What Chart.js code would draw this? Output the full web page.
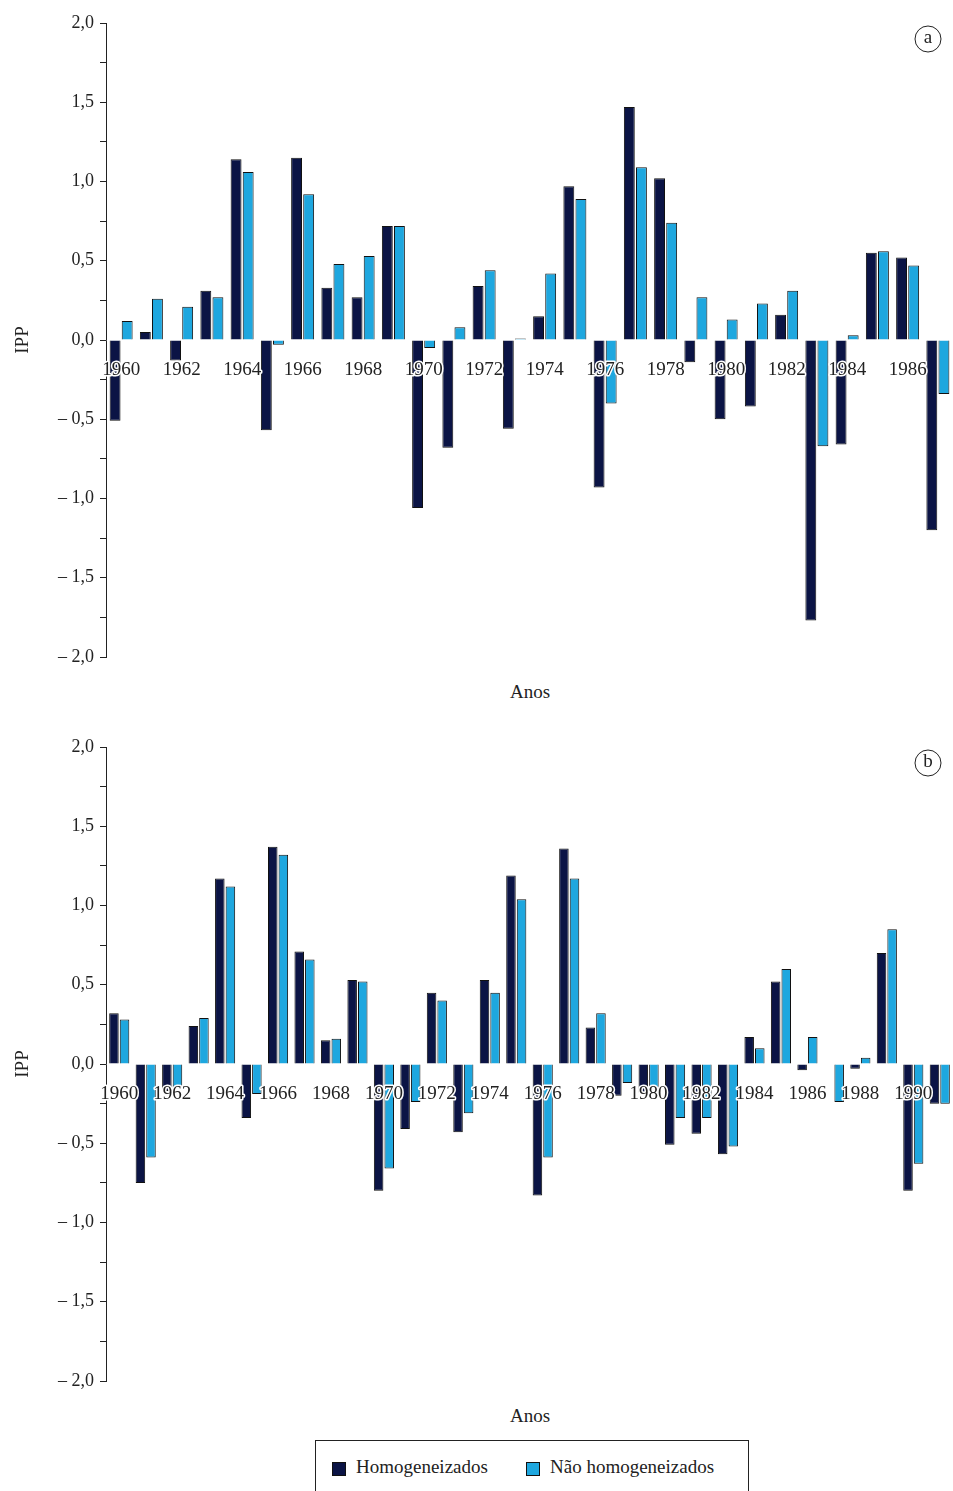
<!DOCTYPE html>
<html><head><meta charset="utf-8">
<script src="https://cdn.jsdelivr.net/npm/chart.js@4"></script>
<style>
body{margin:0;background:#fff;font-family:"Liberation Serif",serif;}
.wrap{position:absolute;left:0;width:953px;}
.t{position:absolute;font-size:19px;color:#222;}
#legend{position:absolute;left:315px;top:1440px;width:432px;height:50px;border:1px solid #222;border-bottom:none;font-size:19px;color:#222;}
#legend span.b{display:inline-block;width:12px;height:12px;border:1px solid #111;vertical-align:middle;margin-right:10px;}
</style></head><body>
<div class="wrap" style="top:0;height:680px"><canvas id="ca"></canvas></div>
<div class="wrap" style="top:724px;height:680px"><canvas id="cb"></canvas></div>
<div class="t" style="left:510px;top:681px">Anos</div>
<div class="t" style="left:510px;top:1405px">Anos</div>
<div id="legend"><div style="position:absolute;left:16px;top:15px"><span class="b" style="background:#0b1445"></span>Homogeneizados</div>
<div style="position:absolute;left:210px;top:15px"><span class="b" style="background:#1ea7df"></span>Não homogeneizados</div></div>
<script>
var yearsA = [1960,1961,1962,1963,1964,1965,1966,1967,1968,1969,1970,1971,1972,1973,1974,1975,1976,1977,1978,1979,1980,1981,1982,1983,1984,1985,1986,1987];
var homA = [-0.51,0.05,-0.13,0.31,1.14,-0.57,1.15,0.33,0.27,0.72,-1.06,-0.68,0.34,-0.56,0.15,0.97,-0.93,1.47,1.02,-0.14,-0.50,-0.42,0.16,-1.77,-0.66,0.55,0.52,-1.20];
var naoA = [0.12,0.26,0.21,0.27,1.06,-0.03,0.92,0.48,0.53,0.72,-0.05,0.08,0.44,0.01,0.42,0.89,-0.40,1.09,0.74,0.27,0.13,0.23,0.31,-0.67,0.03,0.56,0.47,-0.34];
var yearsB = [1960,1961,1962,1963,1964,1965,1966,1967,1968,1969,1970,1971,1972,1973,1974,1975,1976,1977,1978,1979,1980,1981,1982,1983,1984,1985,1986,1987,1988,1989,1990,1991];
var homB = [0.32,-0.75,-0.17,0.24,1.17,-0.34,1.37,0.71,0.15,0.53,-0.80,-0.41,0.45,-0.43,0.53,1.19,-0.83,1.36,0.23,-0.20,-0.18,-0.51,-0.44,-0.57,0.17,0.52,-0.04,0.00,-0.03,0.70,-0.80,-0.25];
var naoB = [0.28,-0.59,-0.15,0.29,1.12,-0.19,1.32,0.66,0.16,0.52,-0.66,-0.24,0.40,-0.31,0.45,1.04,-0.59,1.17,0.32,-0.12,-0.15,-0.34,-0.34,-0.52,0.10,0.60,0.17,-0.24,0.04,0.85,-0.63,-0.25];

function fmt(v){
  var r = Math.round(v*100)/100;
  if (Math.abs(r*2 - Math.round(r*2)) > 1e-6) return '';
  var s = Math.abs(r).toFixed(1).replace('.', ',');
  return r < 0 ? '\u2013 ' + s : s;
}
function make(id, years, hom, nao, letter){
  new Chart(document.getElementById(id), {
    type: 'bar',
    data: {labels: years, datasets: [
      {data: hom, backgroundColor: '#0b1445', borderColor: '#111', borderWidth: 1},
      {data: nao, backgroundColor: '#1ea7df', borderColor: '#111', borderWidth: 1}
    ]},
    options: {
      responsive: true, maintainAspectRatio: false, animation: false,
      layout: {padding: {top: 23, bottom: 23, left: 8, right: 0}},
      plugins: {legend: {display: false}, tooltip: {enabled: false}},
      scales: {
        x: {position: {y: 0}, categoryPercentage: 0.9, barPercentage: 1,
            grid: {display: false}, border: {display: false},
            ticks: {display: false}},
        y: {min: -2, max: 2, afterFit: function(s){ s.width = 98; },
            grid: {drawOnChartArea: false, tickLength: 6, color: '#222'},
            border: {color: '#222'},
            title: {display: true, text: 'IPP', color: '#222', font: {family: 'Liberation Serif', size: 19}},
            ticks: {stepSize: 0.25, color: '#222', padding: 6, font: {family: 'Liberation Serif', size: 18}, callback: fmt}}
      }
    },
    plugins: [{id: 'lt', afterDatasetsDraw: function(c){
      var ctx = c.ctx, xs = c.scales.x, y0 = c.scales.y.getPixelForValue(0);
      ctx.save();
      ctx.font = '19px "Liberation Serif"'; ctx.textAlign = 'center'; ctx.textBaseline = 'top';
      ctx.strokeStyle = '#fff'; ctx.lineWidth = 3; ctx.lineJoin = 'round'; ctx.fillStyle = '#222';
      for (var i = 0; i < years.length; i += 2) {
        var px = xs.getPixelForValue(i);
        ctx.strokeText(String(years[i]), px, y0 + 21);
        ctx.fillText(String(years[i]), px, y0 + 21);
      }
      ctx.beginPath(); ctx.arc(928, 39, 13, 0, Math.PI*2); ctx.strokeStyle = '#222'; ctx.lineWidth = 1; ctx.stroke();
      ctx.textBaseline = 'middle';
      ctx.fillText(letter, 928, 38); ctx.restore();
    }}]
  });
}
make('ca', yearsA, homA, naoA, 'a');
make('cb', yearsB, homB, naoB, 'b');
</script>
</body></html>
